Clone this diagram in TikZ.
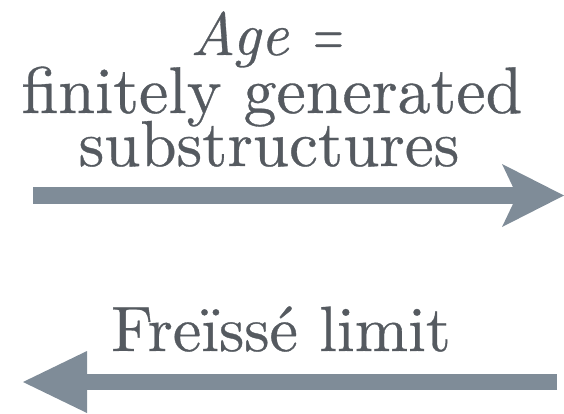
\documentclass[tikz,border=0pt]{standalone}
\usepackage{fontspec}
\usepackage{graphicx}
\setmainfont{lmroman10-regular.otf}[ItalicFont=lmroman10-italic.otf, FakeBold=0.5]
\usetikzlibrary{arrows.meta}
\definecolor{arrowgray}{RGB}{127,140,152}
\definecolor{textgray}{RGB}{85,90,96}
\tikzset{
  lbl/.style={anchor=base, inner sep=0pt, text=textgray},
  bigarrow/.style={draw=arrowgray, line width=16.5pt}
}
\begin{document}
\begin{tikzpicture}[x=1pt,y=-1pt]
\useasboundingbox (0,0) rectangle (564,413);
% text
\node[lbl] (age) at (267,55) {\fontsize{61}{61}\selectfont\textit{Age}\hspace{24pt}\scalebox{0.65}[1]{=}};
\node[lbl] (fg) at (272,113) {\fontsize{66}{66}\selectfont finitely generated};
\node[lbl] (sub) at (269,166) {\fontsize{65}{65}\selectfont substructures};
\node[lbl] (fl) at (281,351) {\fontsize{64}{64}\selectfont Freïssé limit};
% arrows
\coordinate (a1) at (33,195.5);
\coordinate (b1) at (564,195.5);
\coordinate (a2) at (557,382);
\coordinate (b2) at (23,382);
\draw[bigarrow, -{Stealth[length=62pt, width=63pt, inset=15pt, line width=0pt, fill=arrowgray]}] (a1) -- (b1);
\draw[bigarrow, -{Triangle[length=64pt, width=62pt, line width=0pt, fill=arrowgray]}] (a2) -- (b2);
\end{tikzpicture}
\end{document}
